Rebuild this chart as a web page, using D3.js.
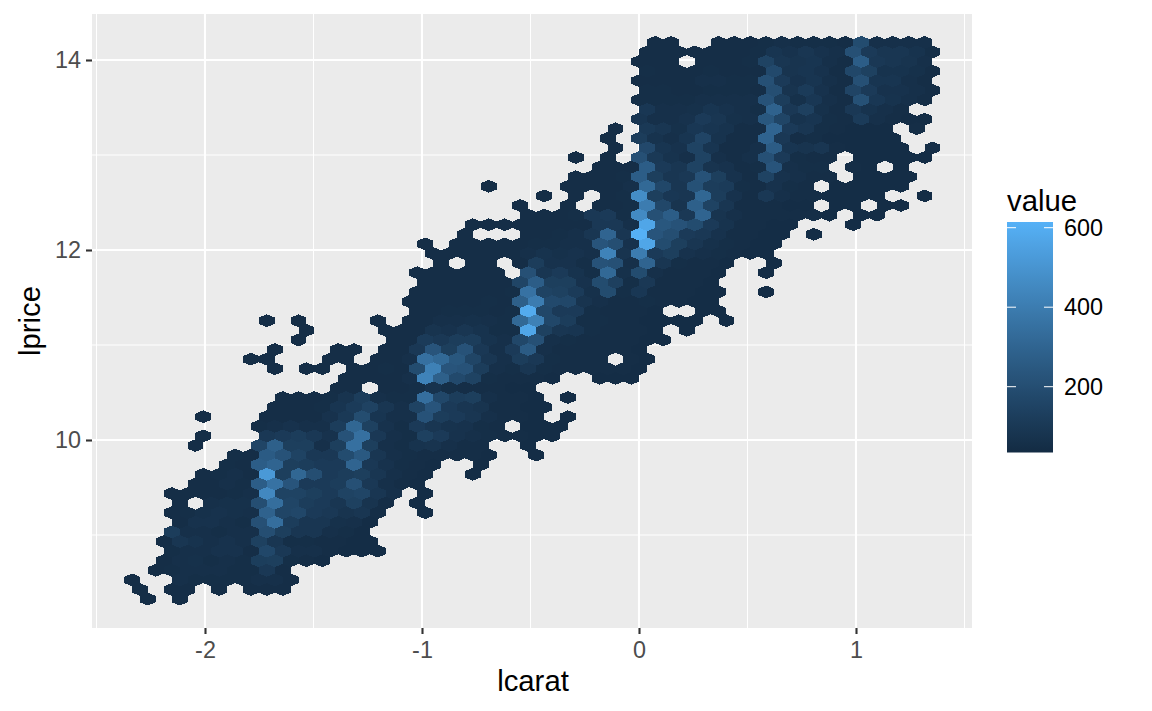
<!DOCTYPE html>
<html><head><meta charset="utf-8">
<script src="https://cdn.jsdelivr.net/npm/d3@7"></script>
<style>html,body{margin:0;padding:0;background:#fff}svg{display:block}text{font-family:"Liberation Sans",Arial,sans-serif}</style>
</head><body><div id="chart"></div>
<script>
const lcaratTicks = [-2, -1, 0, 1];
const lcaratMinor = [-2.5, -1.5, -0.5, 0.5, 1.5];
const lpriceTicks = [10, 12, 14];
const lpriceMinor = [9, 11, 13];
const legendTicks = [200, 400, 600];
const valueRange = [35, 615];
const colorRange = ["#132B43", "#56B1F7"];
const firstLcarat = -2.336, stepLcarat = 0.07304;
const topLprice = 14.186, stepLprice = 0.10105;
// one entry per hexagon row, top to bottom: index of the first column
const rowFirstColumn = [33,32,32,32,32,32,32,32,32,30,30,30,28,29,28,22,26,24,25,21,21,18,19,19,18,18,18,17,18,8,11,10,9,7,9,13,13,9,9,4,8,4,4,6,6,4,4,2,3,2,3,2,2,2,2,1,0,0,1];
// counts per column in each row; 0 = empty cell
const rowValues = [
[50,50,0,0,50,50,50,55,60,55,55,55,50,190,60,60,60,60],
[50,50,50,50,50,50,50,55,85,70,90,70,60,210,110,90,90,75,55],
[50,50,50,0,50,50,50,55,150,90,80,85,60,50,270,100,90,80,60],
[55,50,50,50,55,50,50,50,180,80,85,70,50,170,140,75,75,65,50],
[50,50,50,50,60,60,55,55,210,110,70,85,60,50,210,85,85,60,50],
[55,55,50,50,55,55,55,50,200,80,115,70,50,155,110,70,70,60,50],
[55,55,55,55,60,60,60,60,220,120,65,95,60,50,215,95,75,60,50],
[95,60,60,65,85,70,60,55,290,100,135,65,50,100,75,60,50],
[85,60,60,70,110,90,65,60,240,160,75,85,55,50,115,60,50,45,45],
[50,0,105,90,65,95,85,75,50,50,300,110,90,55,50,45,45,45,0,50],
[50,0,120,75,60,85,155,75,50,50,295,100,50,55,45,45,45,45,45],
[50,0,175,85,70,150,85,50,50,60,265,85,80,90,50,45,45,45,45,0,50],
[50,0,50,0,210,105,75,60,150,60,50,60,210,110,55,50,50,0,45,45,45,45,45],
[50,50,50,270,110,90,150,80,70,50,55,230,60,55,55,0,50,45,0,45],
[50,50,50,55,270,130,90,100,220,130,70,50,150,70,60,50,50,0,45,45,45,45],
[50,0,0,0,0,50,50,50,50,60,320,170,90,215,120,115,55,50,70,55,50,0,45,45,45,45,45],
[50,0,50,0,50,55,470,130,95,90,310,120,70,50,100,60,50,50,45,45,45,45,0,0,45],
[50,0,0,50,0,50,50,55,400,170,80,280,150,90,50,50,50,45,45,0,45,45,0,45,45],
[50,50,50,55,100,110,55,460,210,270,100,300,80,60,50,50,50,50,50,45,0,45,45],
[50,50,50,50,50,50,50,50,100,100,60,570,240,220,190,110,75,50,50,45,45,0,0,0,45],
[50,0,0,0,50,50,55,60,90,300,90,610,230,200,110,100,70,50,50,45,45,0,45],
[50,0,50,50,50,50,50,55,55,60,60,230,200,70,570,190,130,90,65,55,50,45,45],
[50,50,50,50,50,50,60,75,65,70,60,430,80,400,110,130,70,60,55,50,45,45],
[50,0,50,50,0,50,120,70,70,55,220,210,60,300,90,55,50,50,45,0,0,45],
[50,50,50,50,50,50,0,210,90,110,75,55,320,65,190,60,50,50,50,45,0,0,45],
[50,50,50,50,50,50,160,270,130,130,70,190,135,55,100,50,50,50,45],
[50,50,50,50,50,50,55,360,150,140,115,65,190,55,95,50,50,50,45,45,0,0,45],
[50,50,50,50,50,55,50,280,400,180,170,80,60,50,50,55,50,50,45,45],
[50,50,55,55,55,50,55,590,170,110,110,55,50,50,50,45,0,0,45,45],
[50,0,50,0,0,0,0,50,0,50,50,60,60,65,60,55,320,420,170,120,55,55,50,50,45,45,45,45,0,45],
[50,0,0,0,0,50,50,50,80,70,90,75,55,55,570,140,90,85,55,50,50,50,45,0,45],
[50,0,0,0,0,0,50,50,115,100,120,120,75,60,170,210,60,55,50,50,50,50,45,45],
[50,0,0,0,50,50,0,50,50,100,230,130,220,100,60,110,260,60,50,50,50,50,50,45],
[50,50,0,0,0,50,50,0,50,50,60,350,320,240,160,90,60,120,100,55,50,50,50,0,50,45],
[50,0,50,50,0,50,50,55,50,190,420,230,220,120,60,55,90,55,50,50,50,50,50,45],
[50,50,50,50,60,430,280,180,150,55,50,50,50,45,0,0,45,45,45],
[50,50,0,50,50,55,75,55,50,50,50,45,45],
[50,50,50,55,80,120,60,55,55,340,170,120,130,60,50,50,45,0,45],
[50,50,50,55,85,115,145,90,60,150,230,110,90,80,50,50,45,45],
[50,0,0,0,50,50,50,50,70,105,195,85,60,60,220,120,110,90,60,50,50,45,0,45],
[55,60,70,60,60,120,310,140,70,55,110,90,75,70,55,50,0,45,45,45],
[50,0,0,0,100,110,120,100,70,220,350,100,60,55,140,110,70,60,55,50,50,45,45],
[50,0,0,0,160,280,130,130,60,130,350,130,60,55,75,80,60,50,50,0,0,45],
[55,50,260,220,150,100,100,190,250,90,60,55,50,50,50,50,45,0,0,45],
[55,50,270,300,130,120,110,110,300,100,70,55,50,45,0,0,45],
[50,55,60,50,520,130,310,200,110,120,130,90,60,50,45,0,0,45],
[50,50,60,55,270,360,230,110,110,120,210,100,60,50,45],
[50,50,50,50,55,60,450,150,150,130,110,150,160,90,60,0,45],
[50,0,60,65,65,200,340,160,120,110,90,140,80,50,0,45],
[50,55,65,70,65,60,290,160,170,110,100,80,90,50,0,0,45],
[50,70,70,60,55,210,340,120,90,90,65,60,45],
[120,60,60,55,60,60,200,130,90,90,60,55,45],
[50,90,75,60,70,60,140,90,55,55,50,50,45,45],
[55,60,60,70,70,50,170,100,60,60,50,45,45,45],
[50,60,65,55,60,55,125,130,55,50,45],
[50,55,60,60,60,55,55,100,50],
[50,0,0,60,55,55,55,55,60,60,50],
[50,0,50,50,0,50,0,50,50,50],
[50,0,50]
];

const W = 1152, H = 711;
const panel = {left: 92, right: 972, top: 14, bottom: 628};
const x = d3.scaleLinear().domain([0, 1]).range([639, 856]);
const y = d3.scaleLinear().domain([14, 12]).range([60, 250]);
const color = d3.scaleLinear().domain(valueRange).range(colorRange).interpolate(d3.interpolateLab);

const svg = d3.select("#chart").append("svg").attr("width", W).attr("height", H);
const pw = panel.right - panel.left, ph = panel.bottom - panel.top;
svg.append("rect").attr("x", panel.left).attr("y", panel.top).attr("width", pw).attr("height", ph).attr("fill", "#EBEBEB");

const grid = svg.append("g").attr("stroke", "#fff").attr("fill", "none");
function vline(v, w){ grid.append("line").attr("x1", x(v)).attr("x2", x(v)).attr("y1", panel.top).attr("y2", panel.bottom).attr("stroke-width", w); }
function hline(v, w){ grid.append("line").attr("y1", y(v)).attr("y2", y(v)).attr("x1", panel.left).attr("x2", panel.right).attr("stroke-width", w); }
lcaratMinor.forEach(v => vline(v, 1.05));
lpriceMinor.forEach(v => hline(v, 1.05));
lcaratTicks.forEach(v => vline(v, 2.1));
lpriceTicks.forEach(v => hline(v, 2.1));

const cells = [];
rowValues.forEach((vals, r) => vals.forEach((v, i) => {
  if (!v) return;
  const c = rowFirstColumn[r] + i;
  cells.push({lcarat: firstLcarat + stepLcarat * (c + (r % 2 ? 0.5 : 0)), lprice: topLprice - stepLprice * r, value: v});
}));
const halfW = stepLcarat / 2, rad = stepLprice / 1.5;
svg.append("g").selectAll("path").data(cells).join("path")
  .attr("shape-rendering", "crispEdges")
  .attr("fill", d => color(d.value))
  .attr("d", d => {
    const p = d3.path(), a = d.lcarat, b = d.lprice;
    p.moveTo(x(a), y(b + rad));
    p.lineTo(x(a + halfW), y(b + rad / 2));
    p.lineTo(x(a + halfW), y(b - rad / 2));
    p.lineTo(x(a), y(b - rad));
    p.lineTo(x(a - halfW), y(b - rad / 2));
    p.lineTo(x(a - halfW), y(b + rad / 2));
    p.closePath();
    return p.toString();
  });

function styleAxis(g){
  g.select(".domain").remove();
  g.selectAll(".tick line").attr("stroke", "#333").attr("stroke-width", 2.1);
  g.selectAll(".tick text").attr("fill", "#4D4D4D").attr("font-size", 23.4);
}
svg.append("g").attr("transform", `translate(0,${panel.bottom})`)
  .call(d3.axisBottom(x).tickValues(lcaratTicks).tickSize(6).tickPadding(7.4).tickFormat(d3.format("d")))
  .call(styleAxis).selectAll(".tick text").text(d => String(d));
svg.append("g").attr("transform", `translate(${panel.left},0)`)
  .call(d3.axisLeft(y).tickValues(lpriceTicks).tickSize(6).tickPadding(5).tickFormat(d3.format("d")))
  .call(styleAxis);

svg.append("text").attr("x", 533).attr("y", 691).attr("text-anchor", "middle").attr("font-size", 29.3).attr("fill", "#000").text("lcarat");
svg.append("text").attr("transform", "translate(40,321) rotate(-90)").attr("text-anchor", "middle").attr("font-size", 29.3).attr("fill", "#000").text("lprice");

// legend
const lg = {x: 1007, w: 46, top: 222, bottom: 452.5};
const ly = d3.scaleLinear().domain([200, 600]).range([386.7, 227.7]);
const defs = svg.append("defs");
const grad = defs.append("linearGradient").attr("id", "bar").attr("x1", 0).attr("x2", 0).attr("y1", 1).attr("y2", 0);
d3.range(0, 21).forEach(i => {
  const t = i / 20;
  grad.append("stop").attr("offset", t).attr("stop-color", color(valueRange[0] + t * (valueRange[1] - valueRange[0])));
});
svg.append("text").attr("x", lg.x).attr("y", 211).attr("font-size", 29.3).attr("fill", "#000").text("value");
svg.append("rect").attr("x", lg.x).attr("y", lg.top).attr("width", lg.w).attr("height", lg.bottom - lg.top).attr("fill", "url(#bar)");
const lt = svg.append("g").selectAll("g").data(legendTicks).join("g");
lt.append("line").attr("x1", lg.x).attr("x2", lg.x + 9).attr("y1", d => ly(d)).attr("y2", d => ly(d)).attr("stroke", "#fff").attr("stroke-width", 1);
lt.append("line").attr("x1", lg.x + lg.w - 9).attr("x2", lg.x + lg.w).attr("y1", d => ly(d)).attr("y2", d => ly(d)).attr("stroke", "#fff").attr("stroke-width", 1);
lt.append("text").attr("x", 1064).attr("y", d => ly(d)).attr("dy", "0.35em").attr("font-size", 23.4).attr("fill", "#000").text(d => d);
</script></body></html>
